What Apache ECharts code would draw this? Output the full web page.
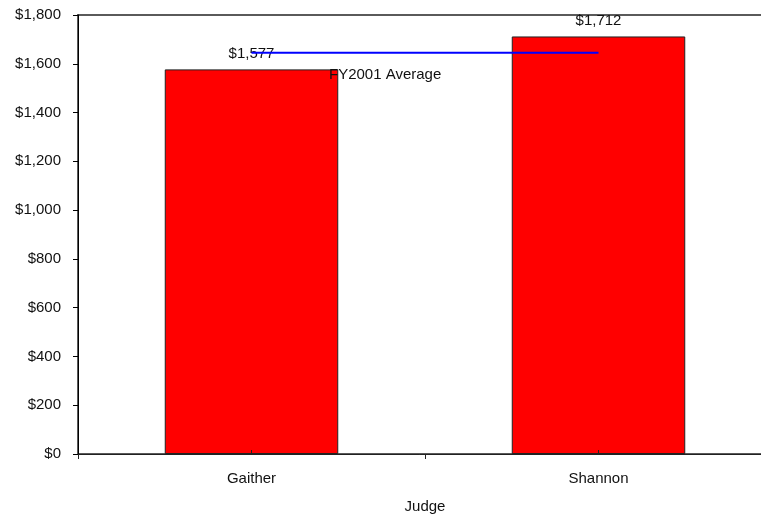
<!DOCTYPE html>
<html><head><meta charset="utf-8">
<script src="https://cdn.jsdelivr.net/npm/echarts@6/dist/echarts.min.js"></script>
<style>html,body{margin:0;padding:0;background:#fff;overflow:hidden}#c{width:761px;height:516px}</style>
</head><body><div id="c"></div>
<script>
const categories = ['Gaither', 'Shannon'];
const payments = [1577, 1712];
const averageValue = [1645, 1645];
const averageLabel = 'FY2001 Average';
const yTicks = { min: 0, max: 1800, interval: 200 };

const chart = echarts.init(document.getElementById('c'), null, { renderer: 'canvas' });
const font = 'Liberation Sans, Arial, sans-serif';
const fs = 15;
const fmt = v => '$' + v.toLocaleString('en-US');
chart.setOption({
  animation: false,
  backgroundColor: '#fff',
  grid: { left: 78, top: 15, bottom: 62, width: 694, outerBoundsMode: 'none', containLabel: false, show: true, borderColor: '#5a5a5a', borderWidth: 2 },
  xAxis: [{
    type: 'category', data: categories, position: 'bottom',
    name: 'Judge', nameLocation: 'middle', nameGap: 45,
    nameTextStyle: { fontFamily: font, fontSize: fs, color: '#111' },
    axisLine: { lineStyle: { color: '#222', width: 1 } },
    axisTick: { show: true, length: 5, lineStyle: { color: '#222' } },
    axisLabel: { fontFamily: font, fontSize: fs, color: '#111', margin: 17 }
  }, {
    type: 'category', data: categories, position: 'bottom', z: 10,
    axisLine: { show: false },
    axisTick: { show: true, inside: true, alignWithLabel: true, length: 4, lineStyle: { color: '#222' } },
    axisLabel: { show: false }
  }],
  yAxis: {
    type: 'value', min: yTicks.min, max: yTicks.max, interval: yTicks.interval,
    splitLine: { show: false },
    axisLine: { show: true, lineStyle: { color: '#000', width: 1 } },
    axisTick: { show: true, length: 5, lineStyle: { color: '#000' } },
    axisLabel: { fontFamily: font, fontSize: fs, color: '#111', margin: 17, formatter: fmt }
  },
  series: [{
    type: 'bar', data: payments, barWidth: '50%',
    itemStyle: { color: '#ff0000', borderColor: '#222', borderWidth: 1 },
    label: { show: true, position: 'top', distance: 8, fontFamily: font, fontSize: fs, color: '#111', formatter: p => fmt(p.value) },
    z: 2
  }, {
    type: 'line', data: averageValue, symbol: 'none',
    lineStyle: { color: '#0000ff', width: 2 }, z: 3
  }],
  graphic: [{
    type: 'text', left: 329, top: 67,
    style: { text: averageLabel, font: fs + 'px ' + font, fill: '#111' }, z: 10
  }]
});
</script></body></html>
